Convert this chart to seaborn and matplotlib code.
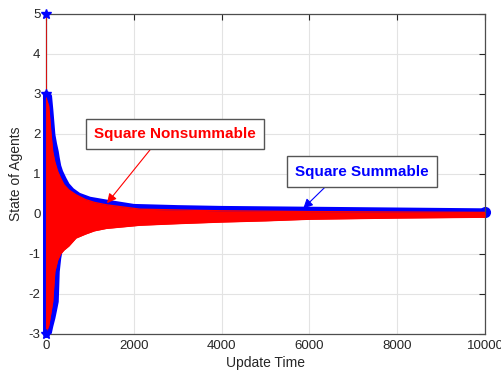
import matplotlib
matplotlib.use("Agg")
import matplotlib.pyplot as plt
import numpy as np
import pandas as pd
import seaborn as sns

# ---------------- data ----------------
start_time = 0
start_value = 5.0

# envelope of the "square summable" (blue) trajectories
blue_t = [0, 90, 120, 167, 205, 243, 266, 300, 342, 420, 494, 600, 752,
          1000, 1370, 2000, 3000, 4000, 5000, 6000, 7000, 8000, 9000, 10000]
blue_upper = [3.0, 2.95, 2.6, 1.98, 1.75, 1.56, 1.4, 1.2, 1.06, 0.88, 0.73,
              0.6, 0.48, 0.38, 0.31, 0.2, 0.17, 0.15, 0.14, 0.13, 0.12,
              0.11, 0.1, 0.09]
blue_lower = [-3.0, -2.95, -2.8, -2.6, -2.4, -2.19, -1.44, -1.1, -0.85,
              -0.7, -0.6, -0.5, -0.4, -0.3, -0.25, -0.15, -0.1, -0.07,
              -0.05, -0.04, -0.03, -0.03, -0.02, -0.02]

# envelope of the "square nonsummable" (red) trajectories
red_t = [0, 60, 114, 152, 200, 266, 330, 410, 520, 683, 900, 1100, 1370,
         2140, 3000, 4000, 5000, 6000, 8000, 10000]
red_upper = [2.9, 2.7, 2.0, 1.56, 1.3, 1.06, 0.9, 0.73, 0.6, 0.48, 0.36,
             0.29, 0.23, 0.12, 0.1, 0.08, 0.07, 0.06, 0.05, 0.04]
red_lower = [-2.95, -2.8, -2.45, -2.19, -1.44, -1.15, -1.0, -0.9, -0.8,
             -0.6, -0.5, -0.42, -0.36, -0.28, -0.24, -0.2, -0.17, -0.13,
             -0.1, -0.08]

x_ticks = [0, 2000, 4000, 6000, 8000, 10000]
y_ticks = [-3, -2, -1, 0, 1, 2, 3, 4, 5]

label_nonsum = "Square Nonsummable"
label_sum = "Square Summable"
arrow_nonsum_tip = (1390, 0.27)
arrow_sum_tip = (5860, 0.14)
text_nonsum_pos = (2938, 2.0)
text_sum_pos = (7194, 1.06)

# ---------------- style ----------------
sns.set_theme(style="white")
plt.rcParams["font.family"] = ["Liberation Sans", "DejaVu Sans"]

BLUE = "#0000ff"
RED = "#ff0000"
DARK = "#262626"

fig = plt.figure(figsize=(5.01, 3.70), dpi=100)
ax = fig.add_axes([46 / 501, 36 / 370, 439 / 501, 320 / 370])

blue_df = pd.DataFrame({"t": blue_t, "upper": blue_upper, "lower": blue_lower})
red_df = pd.DataFrame({"t": red_t, "upper": red_upper, "lower": red_lower})

# blue band
ax.fill_between(blue_df["t"], blue_df["lower"], blue_df["upper"],
                color=BLUE, lw=0, zorder=2)
sns.lineplot(data=blue_df, x="t", y="upper", color=BLUE, lw=3.0, ax=ax,
             zorder=2, estimator=None, sort=False)
sns.lineplot(data=blue_df, x="t", y="lower", color=BLUE, lw=3.0, ax=ax,
             zorder=2, estimator=None, sort=False)
# blue start column and markers
ax.plot([start_time, start_time], [blue_lower[0], blue_upper[0]],
        color=BLUE, lw=5, zorder=2, clip_on=False)
ax.plot([start_time] * 3, [start_value, blue_upper[0], blue_lower[0]],
        ls="none", marker="*", ms=7, color=BLUE, zorder=4, clip_on=False)
ax.plot([blue_t[-1]], [(blue_upper[-1] + blue_lower[-1]) / 2 + 0.02],
        ls="none", marker="o", ms=7, color=BLUE, zorder=2, clip_on=False)

# red band
ax.fill_between(red_df["t"], red_df["lower"], red_df["upper"],
                color=RED, lw=0, zorder=3)
sns.lineplot(data=red_df, x="t", y="upper", color=RED, lw=1.0, ax=ax,
             zorder=3, estimator=None, sort=False)
sns.lineplot(data=red_df, x="t", y="lower", color=RED, lw=1.0, ax=ax,
             zorder=3, estimator=None, sort=False)
# red initial spike
ax.plot([start_time, start_time + 10], [start_value, red_lower[0] - 0.05],
        color=RED, lw=1.0, zorder=3)

# annotations
ax.annotate(label_nonsum, xy=arrow_nonsum_tip, xytext=text_nonsum_pos,
            ha="center", va="center", color=RED, fontsize=11,
            fontweight="bold", zorder=6,
            bbox=dict(boxstyle="square,pad=0.55", fc="white", ec="#555555",
                      lw=1.0),
            arrowprops=dict(arrowstyle="-|>", color=RED, lw=0.8,
                            mutation_scale=14, shrinkA=0, shrinkB=0,
                            relpos=(0.39, 0.0)))
ax.annotate(label_sum, xy=arrow_sum_tip, xytext=text_sum_pos,
            ha="center", va="center", color=BLUE, fontsize=11,
            fontweight="bold", zorder=6,
            bbox=dict(boxstyle="square,pad=0.55", fc="white", ec="#555555",
                      lw=1.0),
            arrowprops=dict(arrowstyle="-|>", color=BLUE, lw=0.8,
                            mutation_scale=14, shrinkA=0, shrinkB=0,
                            relpos=(0.29, 0.0)))

# axes
ax.set_xlim(0, 10000)
ax.set_ylim(-3, 5)
ax.set_xticks(x_ticks)
ax.set_yticks(y_ticks)
ax.set_xticklabels([str(v) for v in x_ticks])
ax.set_yticklabels([str(v) for v in y_ticks])
ax.grid(True, color="#e3e3e3", lw=0.8, zorder=0)
ax.set_axisbelow(True)
ax.tick_params(direction="in", length=4, width=0.8, colors=DARK,
               labelsize=9.5, top=True, right=True, pad=4)
for s in ax.spines.values():
    s.set_color("#4d4d4d")
    s.set_linewidth(0.9)
ax.set_xlabel("Update Time", fontsize=10, color=DARK, labelpad=3)
ax.set_ylabel("State of Agents", fontsize=10, color=DARK, labelpad=4)

fig.savefig("out.png", dpi=100)
